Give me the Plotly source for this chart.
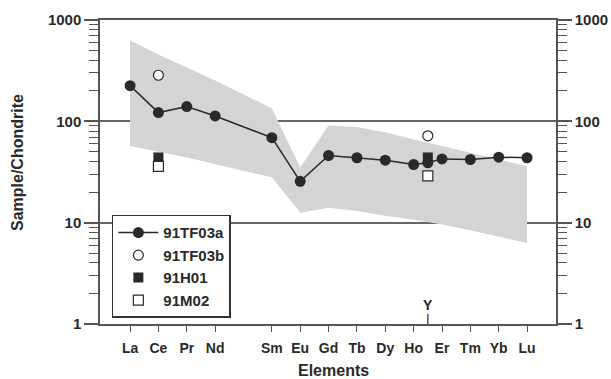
import plotly.graph_objects as go

# ---- data ----
elements = ["La", "Ce", "Pr", "Nd", "Sm", "Eu", "Gd", "Tb", "Dy", "Ho", "Er", "Tm", "Yb", "Lu"]
element_pos = [1, 2, 3, 4, 6, 7, 8, 9, 10, 11, 12, 13, 14, 15]
y_pos = 11.5

# 91TF03a (line + filled circles), includes Y between Ho and Er
tf03a_x = [1, 2, 3, 4, 6, 7, 8, 9, 10, 11, 11.5, 12, 13, 14, 15]
tf03a_y = [225, 122, 140, 113, 69, 25.6, 46, 43.7, 41.4, 37.5, 39, 42.6, 42, 44.3, 43.7]

tf03b_x = [2, 11.5]
tf03b_y = [285, 72]

h01_x = [2, 11.5]
h01_y = [44, 44]

m02_x = [2, 11.5]
m02_y = [36, 29]

# shaded field (upper & lower envelope)
band_upper = [630, 456, 339, 253, 135, 35, 91, 88, 78, 66, 57, 49, 42, 36]
band_lower = [57, 50, 44, 38, 28, 12.5, 14, 13, 11.7, 10.7, 9.6, 8.4, 7.3, 6.3]

FONT = "Liberation Sans, Arial, Helvetica, sans-serif"
AXC = "#555555"
INK = "#2a2a2a"

fig = go.Figure()

fig.add_trace(go.Scatter(
    x=element_pos + element_pos[::-1],
    y=band_upper + band_lower[::-1],
    fill="toself", fillcolor="#d4d4d4", line=dict(width=0),
    mode="lines", showlegend=False, hoverinfo="skip"))

fig.add_trace(go.Scatter(
    x=tf03a_x, y=tf03a_y, mode="lines+markers", name="91TF03a",
    line=dict(color=INK, width=1.5),
    marker=dict(symbol="circle", size=11, color=INK, line=dict(width=0))))

fig.add_trace(go.Scatter(
    x=tf03b_x, y=tf03b_y, mode="markers", name="91TF03b",
    marker=dict(symbol="circle", size=10, color="white", line=dict(color=INK, width=1.2))))

fig.add_trace(go.Scatter(
    x=h01_x, y=h01_y, mode="markers", name="91H01",
    marker=dict(symbol="square", size=10, color=INK, line=dict(width=0))))

fig.add_trace(go.Scatter(
    x=m02_x, y=m02_y, mode="markers", name="91M02",
    marker=dict(symbol="square", size=10, color="white", line=dict(color=INK, width=1.2))))

minor_vals = [m * 10 ** d for d in range(3) for m in range(2, 10)]

yax = dict(
    type="log", range=[0, 3], automargin=False,
    tickvals=[1, 10, 100, 1000], ticktext=["1", "10", "100", "1000"],
    ticks="outside", ticklen=14, tickwidth=1.5, tickcolor=AXC,
    minor=dict(tickvals=minor_vals, ticks="outside", ticklen=9, tickwidth=1.2,
               tickcolor=AXC, showgrid=False),
    showgrid=True, gridcolor="#666666", gridwidth=1.5,
    showline=True, linecolor=AXC, linewidth=1.5,
    zeroline=False,
    tickfont=dict(family=FONT, size=15, color=INK, weight="bold"),
)

fig.update_layout(
    width=611, height=379,
    margin=dict(l=100, r=55, t=20, b=55),
    paper_bgcolor="white", plot_bgcolor="white",
    xaxis=dict(
        range=[-0.06, 16.02], automargin=False,
        tickvals=element_pos, ticktext=elements,
        ticks="outside", ticklen=6, tickwidth=1.2, tickcolor=AXC,
        ticklabelstandoff=4,
        showgrid=False, zeroline=False,
        showline=True, linecolor=AXC, linewidth=1.5, mirror=True,
        tickfont=dict(family=FONT, size=14, color=INK, weight="bold"),
    ),
    yaxis=yax,
    yaxis2=dict(yax, overlaying="y", side="right", showgrid=False, matches="y"),
    legend=dict(
        x=0.026, y=0.359, xanchor="left", yanchor="top",
        bgcolor="white", bordercolor="#333333", borderwidth=1.5,
        font=dict(family=FONT, size=15, color=INK, weight="bold"),
        tracegroupgap=0, itemwidth=40,
    ),
    showlegend=True,
)

# invisible trace to activate the right-hand axis
fig.add_trace(go.Scatter(x=[1], y=[1], yaxis="y2", mode="markers",
                         marker=dict(opacity=0), showlegend=False, hoverinfo="skip"))

# Y tick (pointing up into the plot) and label
fig.add_shape(type="line", xref="x", yref="paper", x0=y_pos, x1=y_pos, y0=0, y1=0.033,
              line=dict(color=AXC, width=1.5))
fig.add_annotation(x=y_pos, xref="x", y=0.03, yref="paper", text="Y", showarrow=False,
                   yanchor="bottom", font=dict(family=FONT, size=14, color=INK, weight="bold"))

# axis titles
fig.add_annotation(x=(17 - 100) / 456, xref="paper", y=(324 - 163) / 304, yref="paper",
                   text="Sample/Chondrite",
                   showarrow=False, textangle=-90, xanchor="center", yanchor="middle",
                   font=dict(family=FONT, size=16, color=INK, weight="bold"))
fig.add_annotation(x=(333 - 100) / 456, xref="paper", y=-(370 - 324) / 304, yref="paper",
                   text="Elements",
                   showarrow=False, xanchor="center", yanchor="middle",
                   font=dict(family=FONT, size=16, color=INK, weight="bold"))

fig.write_html("out.html")
